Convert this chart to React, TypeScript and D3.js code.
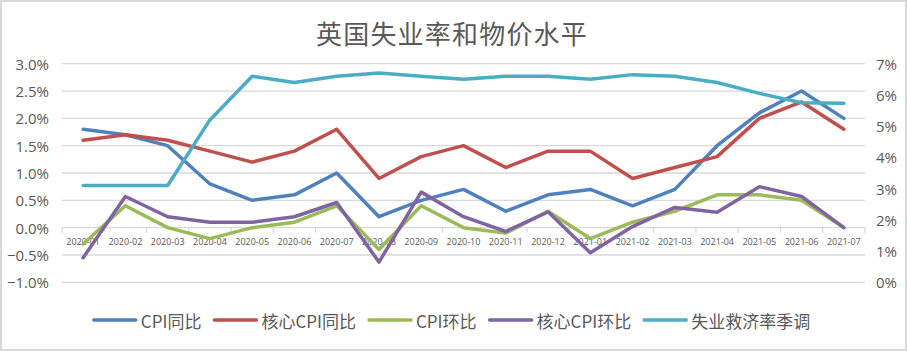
import React, { useEffect, useRef } from "react";
import * as d3 from "d3";

const categories = [
  "2020-01", "2020-02", "2020-03", "2020-04", "2020-05", "2020-06", "2020-07",
  "2020-08", "2020-09", "2020-10", "2020-11", "2020-12", "2021-01", "2021-02",
  "2021-03", "2021-04", "2021-05", "2021-06", "2021-07",
];
const cpiYoY = [1.8, 1.7, 1.5, 0.8, 0.5, 0.6, 1.0, 0.2, 0.5, 0.7, 0.3, 0.6, 0.7, 0.4, 0.7, 1.5, 2.1, 2.5, 2.0];
const coreYoY = [1.6, 1.7, 1.6, 1.4, 1.2, 1.4, 1.8, 0.9, 1.3, 1.5, 1.1, 1.4, 1.4, 0.9, 1.1, 1.3, 2.0, 2.3, 1.8];
const cpiMoM = [-0.3, 0.4, 0.0, -0.2, 0.0, 0.1, 0.4, -0.4, 0.4, 0.0, -0.1, 0.3, -0.2, 0.1, 0.3, 0.6, 0.6, 0.5, 0.0];
const coreMoM = [-0.55, 0.57, 0.2, 0.1, 0.1, 0.2, 0.46, -0.63, 0.65, 0.2, -0.07, 0.29, -0.46, 0.02, 0.37, 0.28, 0.75, 0.57, 0.0];
const unemployment = [3.1, 3.1, 3.1, 5.2, 6.6, 6.4, 6.6, 6.7, 6.6, 6.5, 6.6, 6.6, 6.5, 6.65, 6.6, 6.4, 6.05, 5.75, 5.73];

const leftTicks = [3.0, 2.5, 2.0, 1.5, 1.0, 0.5, 0.0, -0.5, -1.0];
const rightTicks = [7, 6, 5, 4, 3, 2, 1, 0];

const title = "英国失业率和物价水平";
const seriesNames = ["CPI同比", "核心CPI同比", "CPI环比", "核心CPI环比", "失业救济率季调"];
const seriesColors = ["#4F81BD", "#C0504D", "#9BBB59", "#8064A2", "#4BACC6"];

const W = 907;
const H = 351;

export default function App() {
  const ref = useRef<SVGSVGElement>(null);

  useEffect(() => {
    const svg = d3.select(ref.current);
    svg.selectAll("*").remove();

    const left = 62, right = 865, top = 63.7, bottom = 282.3;
    const textColor = "#595959";
    const grid = "#d9d9d9";

    svg.append("rect").attr("x", 1).attr("y", 1).attr("width", W - 2).attr("height", H - 2)
      .attr("fill", "#fff").attr("stroke", grid).attr("stroke-width", 2);

    svg.append("text").attr("x", 452).attr("y", 32).attr("text-anchor", "middle")
      .attr("dominant-baseline", "central")
      .attr("font-family", "'Noto Sans CJK SC', sans-serif").attr("font-size", 26)
      .attr("letter-spacing", 1.2)
      .attr("fill", textColor).text(title);

    const x = d3.scaleBand<string>().domain(categories).range([left, right]);
    const yL = d3.scaleLinear().domain([-1, 3]).range([bottom, top]);
    const yR = d3.scaleLinear().domain([0, 7]).range([bottom, top]);

    // gridlines
    svg.append("g").selectAll("line").data(leftTicks.filter((t) => t !== 0)).join("line")
      .attr("x1", left).attr("x2", right)
      .attr("y1", (d) => yL(d)).attr("y2", (d) => yL(d))
      .attr("stroke", grid).attr("stroke-width", 1.3);

    // left axis labels
    svg.append("g").selectAll("text").data(leftTicks).join("text")
      .attr("x", 49).attr("y", (d) => yL(d)).attr("text-anchor", "end")
      .attr("dominant-baseline", "central")
      .attr("font-family", "'Open Sans', sans-serif").attr("font-size", 15)
      .attr("fill", textColor).text((d) => d3.format(".1f")(d) + "%");

    // right axis labels
    svg.append("g").selectAll("text").data(rightTicks).join("text")
      .attr("x", 876).attr("y", (d) => yR(d)).attr("text-anchor", "start")
      .attr("dominant-baseline", "central")
      .attr("font-family", "'Open Sans', sans-serif").attr("font-size", 15)
      .attr("fill", textColor).text((d) => d + "%");

    // category axis at zero
    const y0 = yL(0);
    svg.append("line").attr("x1", left).attr("x2", right).attr("y1", y0).attr("y2", y0)
      .attr("stroke", grid).attr("stroke-width", 1.3);
    const bounds = categories.map((c) => x(c) as number).concat([right]);
    svg.append("g").selectAll("line").data(bounds).join("line")
      .attr("x1", (d) => d).attr("x2", (d) => d).attr("y1", y0).attr("y2", y0 + 5)
      .attr("stroke", grid).attr("stroke-width", 1.3);

    const cx = (c: string) => (x(c) as number) + x.bandwidth() / 2;

    const lineL = d3.line<number>().x((_, i) => cx(categories[i])).y((d) => yL(d));
    const lineR = d3.line<number>().x((_, i) => cx(categories[i])).y((d) => yR(d));

    // x labels (drawn before lines so lines overlap them)
    svg.append("g").selectAll("text").data(categories).join("text")
      .attr("x", (d) => cx(d)).attr("y", 241).attr("text-anchor", "middle")
      .attr("dominant-baseline", "central")
      .attr("font-family", "'Open Sans', sans-serif").attr("font-size", 9)
      .attr("fill", textColor).text((d) => d);

    const series: [number[], boolean][] = [
      [cpiYoY, false], [coreYoY, false], [cpiMoM, false], [coreMoM, false], [unemployment, true],
    ];
    series.forEach(([vals, isRight], i) => {
      svg.append("path").attr("d", (isRight ? lineR : lineL)(vals) as string)
        .attr("fill", "none").attr("stroke", seriesColors[i]).attr("stroke-width", 3.5)
        .attr("stroke-linejoin", "round").attr("stroke-linecap", "round");
    });

    // legend
    const lg = svg.append("g");
    const ly = 320;
    const lineLen = 42, gap = 5, itemGap = 13;
    const items: { g: d3.Selection<SVGGElement, unknown, null, undefined>; w: number }[] = [];
    seriesNames.forEach((name, i) => {
      const g = lg.append("g");
      g.append("line").attr("x1", 0).attr("x2", lineLen).attr("y1", ly).attr("y2", ly)
        .attr("stroke", seriesColors[i]).attr("stroke-width", 3.5).attr("stroke-linecap", "round");
      const t = g.append("text").attr("x", lineLen + gap).attr("y", ly)
        .attr("dominant-baseline", "central")
        .attr("font-family", "'Noto Sans CJK SC', sans-serif").attr("font-size", 17)
        .attr("fill", textColor).text(name);
      const tw = (t.node() as SVGTextElement).getComputedTextLength();
      items.push({ g, w: lineLen + gap + tw });
    });
    const total = d3.sum(items, (d) => d.w) + itemGap * (items.length - 1);
    let pos = 452 - total / 2;
    items.forEach((it) => {
      it.g.attr("transform", `translate(${pos},0)`);
      pos += it.w + itemGap;
    });
  }, []);

  return (
    <svg ref={ref} width={W} height={H}
      style={{ position: "absolute", left: 0, top: 0, background: "#fff" }} />
  );
}
